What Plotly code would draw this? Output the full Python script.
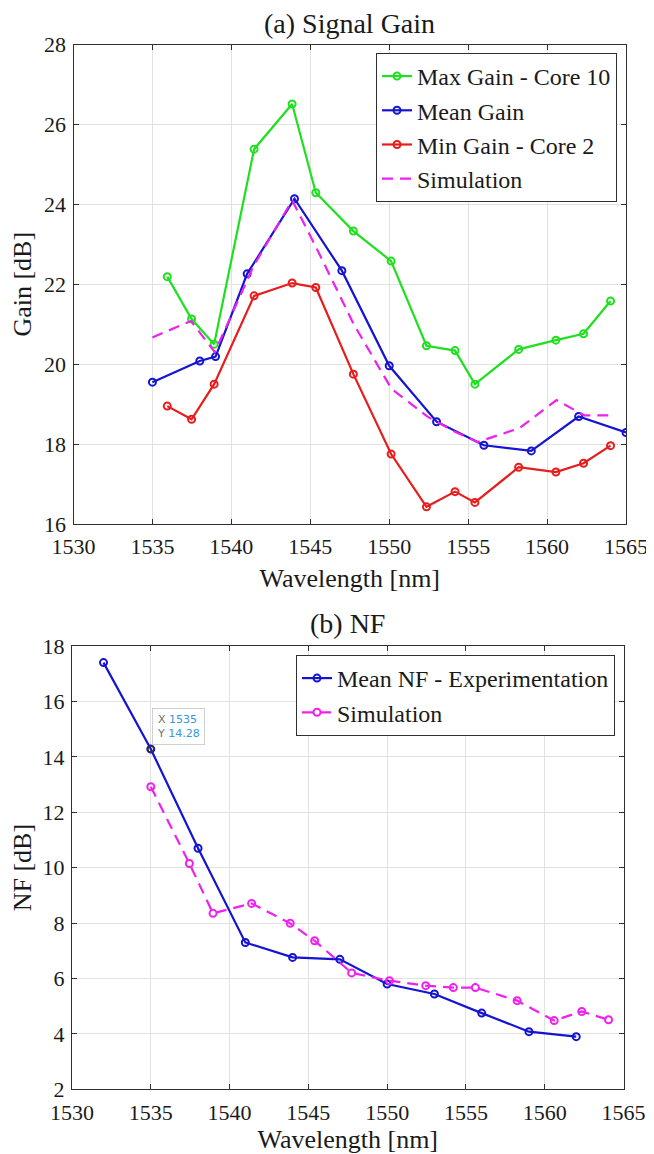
import plotly.graph_objects as go

# ---------------- data: (a) Signal Gain ----------------
gain_ch_wl = [1535.94, 1537.48, 1538.91, 1541.44, 1543.85, 1545.35, 1547.73, 1550.12,
              1552.36, 1554.17, 1555.43, 1558.20, 1560.56, 1562.31, 1564.02]
gain_max_core10 = [22.19, 21.13, 20.50, 25.38, 26.51, 24.29, 23.33, 22.58,
                   20.46, 20.34, 19.50, 20.37, 20.60, 20.76, 21.58]
gain_min_core2 = [18.95, 18.62, 19.50, 21.71, 22.03, 21.92, 19.75, 17.75,
                  16.43, 16.81, 16.54, 17.42, 17.30, 17.52, 17.96]
gain_mean_wl = [1535, 1538, 1539, 1541, 1544, 1547, 1550, 1553, 1556, 1559, 1562, 1565]
gain_mean = [19.55, 20.08, 20.19, 22.26, 24.14, 22.34, 19.96, 18.56, 17.97, 17.83, 18.69, 18.29]
sim_wl = [1535, 1537.45, 1538.95, 1541.4, 1543.85, 1545.4, 1547.75, 1550.15,
          1552.45, 1554.2, 1555.6, 1558.25, 1560.6, 1562.35, 1564.05]
gain_sim = [20.67, 21.08, 20.30, 22.45, 24.10, 22.90, 21.00, 19.38,
            18.68, 18.30, 18.05, 18.40, 19.10, 18.72, 18.72]

# ---------------- data: (b) NF ----------------
nf_mean_wl = [1532, 1535, 1538, 1541, 1544, 1547, 1550, 1553, 1556, 1559, 1562]
nf_mean = [17.40, 14.28, 10.70, 7.30, 6.76, 6.69, 5.80, 5.44, 4.75, 4.08, 3.90]
nf_sim = [12.92, 10.15, 8.35, 8.71, 7.99, 7.36, 6.20, 5.92,
          5.74, 5.67, 5.67, 5.20, 4.48, 4.81, 4.51]

x_ticks = [1530, 1535, 1540, 1545, 1550, 1555, 1560, 1565]

# ---------------- styling ----------------
OFF = 8                      # default page body margin
W, H = 654 - OFF, 1154 - OFF
GREEN, BLUE, RED, MAG = "#1fe01f", "#1414d2", "#e81c1c", "#f020f0"
SERIF = "Liberation Serif, Times New Roman, serif"
AXC = "#303030"
GRID = "#e2e2e2"
TXT = "#1a1a1a"
LW = 2.2
MK = dict(symbol="circle-open", size=7, line=dict(width=2))
DASH = "11px,7px"

fig = go.Figure()

def add(x, y, name, color, xa, ya, legend, dash=None, markers=True):
    fig.add_trace(go.Scatter(
        x=x, y=y, name=name, xaxis=xa, yaxis=ya, legend=legend,
        mode="lines+markers" if markers else "lines",
        line=dict(color=color, width=LW, dash=dash),
        marker=dict(MK, color=color) if markers else None,
    ))

add(gain_ch_wl, gain_max_core10, "Max Gain - Core 10", GREEN, "x", "y", "legend")
add(gain_mean_wl, gain_mean, "Mean Gain", BLUE, "x", "y", "legend")
add(gain_ch_wl, gain_min_core2, "Min Gain - Core 2", RED, "x", "y", "legend")
add(sim_wl, gain_sim, "Simulation", MAG, "x", "y", "legend", dash=DASH, markers=False)

add(nf_mean_wl, nf_mean, "Mean NF - Experimentation", BLUE, "x2", "y2", "legend2")
add(sim_wl, nf_sim, "Simulation", MAG, "x2", "y2", "legend2", dash=DASH)

# datatip marker
fig.add_trace(go.Scatter(x=[nf_mean_wl[1]], y=[nf_mean[1]], xaxis="x2", yaxis="y2",
                         mode="markers", showlegend=False, hoverinfo="skip",
                         marker=dict(symbol="circle-open", size=6, color="#333333",
                                     line=dict(width=1.5))))

def px_x(p):
    return (p - OFF) / W

def px_y(p):
    return 1 - (p - OFF) / H

axis_common = dict(
    showline=True, linecolor=AXC, linewidth=1, mirror="ticks",
    ticks="inside", ticklen=5, tickcolor=AXC, tickwidth=1,
    showgrid=True, gridcolor=GRID, gridwidth=1, zeroline=False,
    tickfont=dict(family=SERIF, size=22, color=TXT),
    automargin=False,
)

xdom1 = [px_x(73.5), px_x(626)]
xdom2 = [px_x(72), px_x(623.5)]
ydom1 = [px_y(524), px_y(44.5)]
ydom2 = [px_y(1089.3), px_y(646)]

title_font = dict(family=SERIF, size=26, color=TXT)
legend_font = dict(family=SERIF, size=24, color=TXT)

fig.update_layout(
    width=W, height=H,
    margin=dict(l=0, r=0, t=0, b=0),
    paper_bgcolor="white", plot_bgcolor="white",
    template="none",
    xaxis=dict(axis_common, domain=xdom1, range=[1530, 1565], tickvals=x_ticks,
               anchor="y", ticklabelstandoff=3,
               title=dict(text="Wavelength [nm]", font=title_font, standoff=10)),
    yaxis=dict(axis_common, domain=ydom1, range=[16, 28], dtick=2, anchor="x",
               ticklabelstandoff=2,
               title=dict(text="Gain [dB]", font=title_font, standoff=4)),
    xaxis2=dict(axis_common, domain=xdom2, range=[1530, 1565], tickvals=x_ticks,
                anchor="y2", ticklabelstandoff=3,
                title=dict(text="Wavelength [nm]", font=title_font, standoff=10)),
    yaxis2=dict(axis_common, domain=ydom2, range=[2, 18], dtick=2, anchor="x2",
                ticklabelstandoff=2,
                title=dict(text="NF [dB]", font=title_font, standoff=4)),
    legend=dict(x=px_x(617), y=px_y(53), xanchor="right", yanchor="top",
                bgcolor="white", bordercolor=AXC, borderwidth=1,
                font=legend_font, tracegroupgap=0, itemwidth=30),
    legend2=dict(x=px_x(615), y=px_y(655), xanchor="right", yanchor="top",
                 bgcolor="white", bordercolor=AXC, borderwidth=1,
                 font=legend_font, tracegroupgap=0, itemwidth=30),
    showlegend=True,
)

fig.add_annotation(text="(a) Signal Gain", xref="paper", yref="paper",
                   x=(xdom1[0] + xdom1[1]) / 2, y=px_y(24), xanchor="center", yanchor="middle",
                   showarrow=False, font=dict(family=SERIF, size=28, color=TXT))
fig.add_annotation(text="(b) NF", xref="paper", yref="paper",
                   x=(xdom2[0] + xdom2[1]) / 2, y=px_y(623), xanchor="center", yanchor="middle",
                   showarrow=False, font=dict(family=SERIF, size=28, color=TXT))

# datatip
tip = (f"<span style='color:#707070'>X</span> <span style='color:#3597e0'>{nf_mean_wl[1]}</span><br>"
       f"<span style='color:#707070'>Y</span> <span style='color:#3597e0'>{nf_mean[1]:.2f}</span>")
fig.add_annotation(text=tip, xref="x2", yref="y2", x=nf_mean_wl[1], y=nf_mean[1],
                   xanchor="left", yanchor="bottom", xshift=1, yshift=4, showarrow=False,
                   align="left", bgcolor="white", bordercolor="#d0d0d0", borderwidth=1, borderpad=4,
                   font=dict(family="DejaVu Sans, Arial, sans-serif", size=11))

fig.write_html("out.html")
